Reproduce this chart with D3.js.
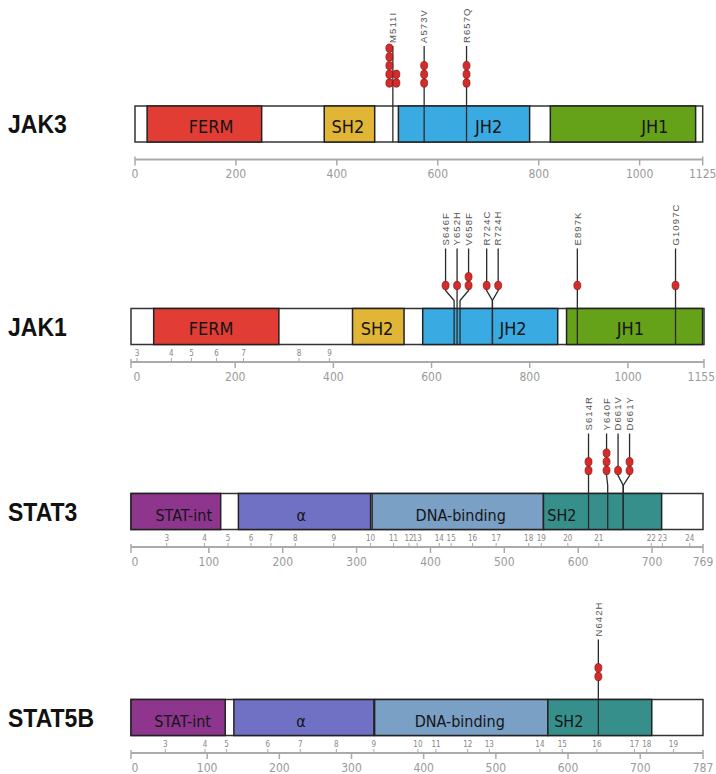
<!DOCTYPE html>
<html>
<head>
<meta charset="utf-8">
<script src="https://cdn.jsdelivr.net/npm/d3@7"></script>
<style>
  html, body { margin: 0; padding: 0; background: #fff; }
  svg { display: block; }
</style>
</head>
<body>
<script>
// protein tracks, top to bottom
const proteins = [ "JAK3", "JAK1", "STAT3", "STAT5B" ];
const families = [ "JAK", "JAK", "STAT", "STAT" ];
const lengths = [ 1125, 1155, 769, 787 ];

// domains: residue range + residue where the name is written
const jak3Domains = [
    { name: "FERM", start: 24, end: 251, labelAt: 151 },
    { name: "SH2", start: 375, end: 475, labelAt: 422 },
    { name: "JH2", start: 522, end: 782, labelAt: 701 },
    { name: "JH1", start: 823, end: 1111, labelAt: 1030 }
];
const jak1Domains = [
    { name: "FERM", start: 34, end: 289, labelAt: 151 },
    { name: "SH2", start: 439, end: 544, labelAt: 489 },
    { name: "JH2", start: 582, end: 857, labelAt: 766 },
    { name: "JH1", start: 875, end: 1152, labelAt: 1005 }
];
const stat3Domains = [
    { name: "STAT-int", start: 0, end: 116, labelAt: 66 },
    { name: "α", start: 140, end: 319, labelAt: 225 },
    { name: "DNA-binding", start: 321, end: 553, labelAt: 441 },
    { name: "SH2", start: 553, end: 713, labelAt: 578 }
];
const stat5bDomains = [
    { name: "STAT-int", start: 0, end: 125, labelAt: 66 },
    { name: "α", start: 137, end: 331, labelAt: 230 },
    { name: "DNA-binding", start: 332, end: 572, labelAt: 450 },
    { name: "SH2", start: 572, end: 716, labelAt: 601 }
];

// mutations: residue + number of samples
const jak3Mutations = [
    { label: "M511I", pos: 511, count: 7 },
    { label: "A573V", pos: 573, count: 3 },
    { label: "R657Q", pos: 657, count: 3 }
];
const jak1Mutations = [
    { label: "S646F", pos: 646, count: 1 },
    { label: "Y652H", pos: 652, count: 1 },
    { label: "V658F", pos: 658, count: 2 },
    { label: "R724C", pos: 724, count: 1 },
    { label: "R724H", pos: 724, count: 1 },
    { label: "E897K", pos: 897, count: 1 },
    { label: "G1097C", pos: 1097, count: 1 }
];
const stat3Mutations = [
    { label: "S614R", pos: 614, count: 2 },
    { label: "Y640F", pos: 640, count: 3 },
    { label: "D661V", pos: 661, count: 1 },
    { label: "D661Y", pos: 661, count: 2 }
];
const stat5bMutations = [
    { label: "N642H", pos: 642, count: 2 }
];

// exon boundaries: exon number + residue
const jak3Exons = [];
const jak1Exons = [ [3, 0], [4, 70], [5, 111], [6, 162], [7, 217], [8, 330], [9, 392] ];
const stat3Exons = [ [3, 43], [4, 94], [5, 126], [6, 157], [7, 184], [8, 217], [9, 269], [10, 319],
    [11, 350], [12, 371], [13, 382], [14, 412], [15, 428], [16, 457], [17, 489], [18, 533], [19, 550],
    [20, 586], [21, 628], [22, 699], [23, 714], [24, 751] ];
const stat5bExons = [ [3, 42], [4, 97], [5, 127], [6, 184], [7, 229], [8, 279], [9, 331], [10, 392],
    [11, 417], [12, 461], [13, 491], [14, 561], [15, 592], [16, 640], [17, 692], [18, 709], [19, 746] ];

// axis tick labels
const jak3Ticks = [ 0, 200, 400, 600, 800, 1000, 1125 ];
const jak1Ticks = [ 0, 200, 400, 600, 800, 1000, 1155 ];
const stat3Ticks = [ 0, 100, 200, 300, 400, 500, 600, 700, 769 ];
const stat5bTicks = [ 0, 100, 200, 300, 400, 500, 600, 700, 787 ];

const domainSets = [ jak3Domains, jak1Domains, stat3Domains, stat5bDomains ];
const mutationSets = [ jak3Mutations, jak1Mutations, stat3Mutations, stat5bMutations ];
const exonSets = [ jak3Exons, jak1Exons, stat3Exons, stat5bExons ];
const tickSets = [ jak3Ticks, jak1Ticks, stat3Ticks, stat5bTicks ];

// ---- layout / style ----
const W = 716, H = 774;
const trackTop = [ 106, 308.5, 493.5, 699.5 ];   // top of each protein bar
const rangeStart = [ 135, 137, 135, 135 ];     // where residue 0 lands
const rangeEnd = [ 702.7, 704, 703, 703 ];
const barLeft = [ 135, 131, 131, 131 ];
const barH = 36;
const narrow = "'Liberation Sans Narrow', 'Arial Narrow', 'DejaVu Sans Condensed', sans-serif";
const palettes = {
    JAK: { FERM: "#e23d35", SH2: "#e1b535", JH2: "#3aabe2", JH1: "#66a11a" },
    STAT: { "STAT-int": "#8e358e", "α": "#7070c4", "DNA-binding": "#7aa0c5", SH2: "#378f8b" }
};
const dotGap = 8.7, colGap = 7, maxPerCol = 5, minHeadGap = 11.5;

const svg = d3.select( "body" ).append( "svg" )
    .attr( "width", W )
    .attr( "height", H );
svg.append( "rect" ).attr( "width", W ).attr( "height", H ).attr( "fill", "#fff" );

// spread lollipop heads so labels don't collide (clusters centered on their mean)
function spreadHeads( muts, x )
{
    let clusters = muts.map( m => ( { members: [ m ], center: x( m.pos ) } ) )
        .sort( ( a, b ) => a.center - b.center );
    let merged = true;
    while ( merged )
    {
        merged = false;
        for ( let i = 0; i < clusters.length - 1; i++ )
        {
            const a = clusters[ i ], b = clusters[ i + 1 ];
            const aEnd = a.center + ( a.members.length - 1 ) / 2 * minHeadGap;
            const bStart = b.center - ( b.members.length - 1 ) / 2 * minHeadGap;
            if ( bStart - aEnd < minHeadGap )
            {
                const members = a.members.concat( b.members );
                clusters.splice( i, 2, { members, center: d3.mean( members, m => x( m.pos ) ) } );
                merged = true;
                break;
            }
        }
    }
    const heads = new Map();
    clusters.forEach( c => c.members.forEach( ( m, j ) =>
        heads.set( m, c.center + ( j - ( c.members.length - 1 ) / 2 ) * minHeadGap ) ) );
    return heads;
}

proteins.forEach( ( name, i ) =>
{
    const top = trackTop[ i ];
    const x = d3.scaleLinear().domain( [ 0, lengths[ i ] ] ).range( [ rangeStart[ i ], rangeEnd[ i ] ] );
    const g = svg.append( "g" ).attr( "class", "track" );
    const palette = palettes[ families[ i ] ];
    const isJak = families[ i ] === "JAK";

    // protein name
    g.append( "text" )
        .attr( "transform", `translate(8,${top + barH / 2 + 9}) scale(0.92,1)` )
        .attr( "font-family", "'Liberation Sans', Arial, sans-serif" )
        .attr( "font-weight", "bold" )
        .attr( "font-size", "25px" )
        .attr( "fill", "#111" )
        .text( name );

    // backbone
    g.append( "rect" )
        .attr( "x", barLeft[ i ] )
        .attr( "y", top )
        .attr( "width", x( lengths[ i ] ) - barLeft[ i ] )
        .attr( "height", barH )
        .attr( "fill", "#fff" )
        .attr( "stroke", "#333" )
        .attr( "stroke-width", 1.5 );

    // domains
    const dx = d => d.start === 0 ? barLeft[ i ] : x( d.start );
    g.selectAll( ".domain" )
        .data( domainSets[ i ] )
        .join( "rect" )
        .attr( "class", "domain" )
        .attr( "x", dx )
        .attr( "y", top )
        .attr( "width", d => x( d.end ) - dx( d ) )
        .attr( "height", barH )
        .attr( "fill", d => palette[ d.name ] )
        .attr( "stroke", "#222" )
        .attr( "stroke-width", 1.5 );

    g.selectAll( ".dlabel" )
        .data( domainSets[ i ] )
        .join( "text" )
        .attr( "class", "dlabel" )
        .attr( "x", d => x( d.labelAt ) )
        .attr( "y", top + ( isJak ? 26.5 : 27.5 ) )
        .attr( "text-anchor", "middle" )
        .attr( "font-family", narrow )
        .attr( "font-size", isJak ? "18px" : "16px" )
        .attr( "fill", "#151515" )
        .text( d => d.name );

    // lollipops
    const muts = mutationSets[ i ];
    const heads = spreadHeads( muts, x );
    const lol = g.selectAll( ".mut" )
        .data( muts )
        .join( "g" )
        .attr( "class", "mut" );

    lol.append( "path" )
        .attr( "d", m => `M${heads.get( m )},${top - 60}V${top - 18}L${x( m.pos )},${top - 8}V${top + barH}` )
        .attr( "fill", "none" )
        .attr( "stroke", "#2a2a2a" )
        .attr( "stroke-width", 1.3 );

    lol.append( "text" )
        .attr( "transform", m => `translate(${heads.get( m )},${top - 63}) rotate(-90)` )
        .attr( "dy", "0.35em" )
        .attr( "font-family", "'Liberation Sans', Arial, sans-serif" )
        .attr( "font-size", "9.5px" )
        .attr( "letter-spacing", "1.1px" )
        .attr( "fill", "#555" )
        .text( m => m.label );

    lol.selectAll( "ellipse" )
        .data( m =>
        {
            const cols = Math.ceil( m.count / maxPerCol );
            return d3.range( m.count ).map( k =>
            {
                const c = Math.floor( k / maxPerCol ), r = k % maxPerCol;
                return { cx: heads.get( m ) + ( c - ( cols - 1 ) / 2 ) * colGap, cy: top - 23 - r * dotGap };
            } );
        } )
        .join( "ellipse" )
        .attr( "cx", d => d.cx )
        .attr( "cy", d => d.cy )
        .attr( "rx", 3.5 )
        .attr( "ry", 4.2 )
        .attr( "fill", "#d42b2b" )
        .attr( "stroke", "#8a1515" )
        .attr( "stroke-width", 0.7 );

    // axis
    const axisY = top + barH + 17.5;
    const ax = g.append( "g" ).attr( "class", "axis" );
    ax.append( "line" )
        .attr( "x1", barLeft[ i ] ).attr( "x2", x( lengths[ i ] ) )
        .attr( "y1", axisY ).attr( "y2", axisY )
        .attr( "stroke", "#aaa" ).attr( "stroke-width", 2 );

    const ticks = tickSets[ i ];
    const last = ticks.length - 1;
    ax.selectAll( ".tick" )
        .data( ticks )
        .join( "line" )
        .attr( "class", "tick" )
        .attr( "x1", ( t, k ) => k === 0 ? barLeft[ i ] : x( t ) )
        .attr( "x2", ( t, k ) => k === 0 ? barLeft[ i ] : x( t ) )
        .attr( "y1", ( t, k ) => k === 0 || k === last ? axisY - 3 : axisY )
        .attr( "y2", axisY + 6 )
        .attr( "stroke", "#aaa" )
        .attr( "stroke-width", 1.5 );

    // last label kept inside the page if it would run past the right edge
    const overflow = t => x( t ) + 13 > W;
    ax.selectAll( ".tlabel" )
        .data( ticks )
        .join( "text" )
        .attr( "class", "tlabel" )
        .attr( "x", t => overflow( t ) ? W - 1 : x( t ) )
        .attr( "y", axisY + 18.5 )
        .attr( "text-anchor", t => overflow( t ) ? "end" : "middle" )
        .attr( "font-family", narrow )
        .attr( "font-size", "12px" )
        .attr( "fill", "#9a9a9a" )
        .text( t => t );

    // exon boundaries
    ax.selectAll( ".exon" )
        .data( exonSets[ i ] )
        .join( "line" )
        .attr( "class", "exon" )
        .attr( "x1", e => x( e[ 1 ] ) ).attr( "x2", e => x( e[ 1 ] ) )
        .attr( "y1", axisY - 4 ).attr( "y2", axisY )
        .attr( "stroke", "#aaa" ).attr( "stroke-width", 1 );

    ax.selectAll( ".elabel" )
        .data( exonSets[ i ] )
        .join( "text" )
        .attr( "class", "elabel" )
        .attr( "x", e => x( e[ 1 ] ) )
        .attr( "y", axisY - 6 )
        .attr( "text-anchor", "middle" )
        .attr( "font-family", narrow )
        .attr( "font-size", "8px" )
        .attr( "fill", "#888" )
        .text( e => e[ 0 ] );
} );
</script>
</body>
</html>
